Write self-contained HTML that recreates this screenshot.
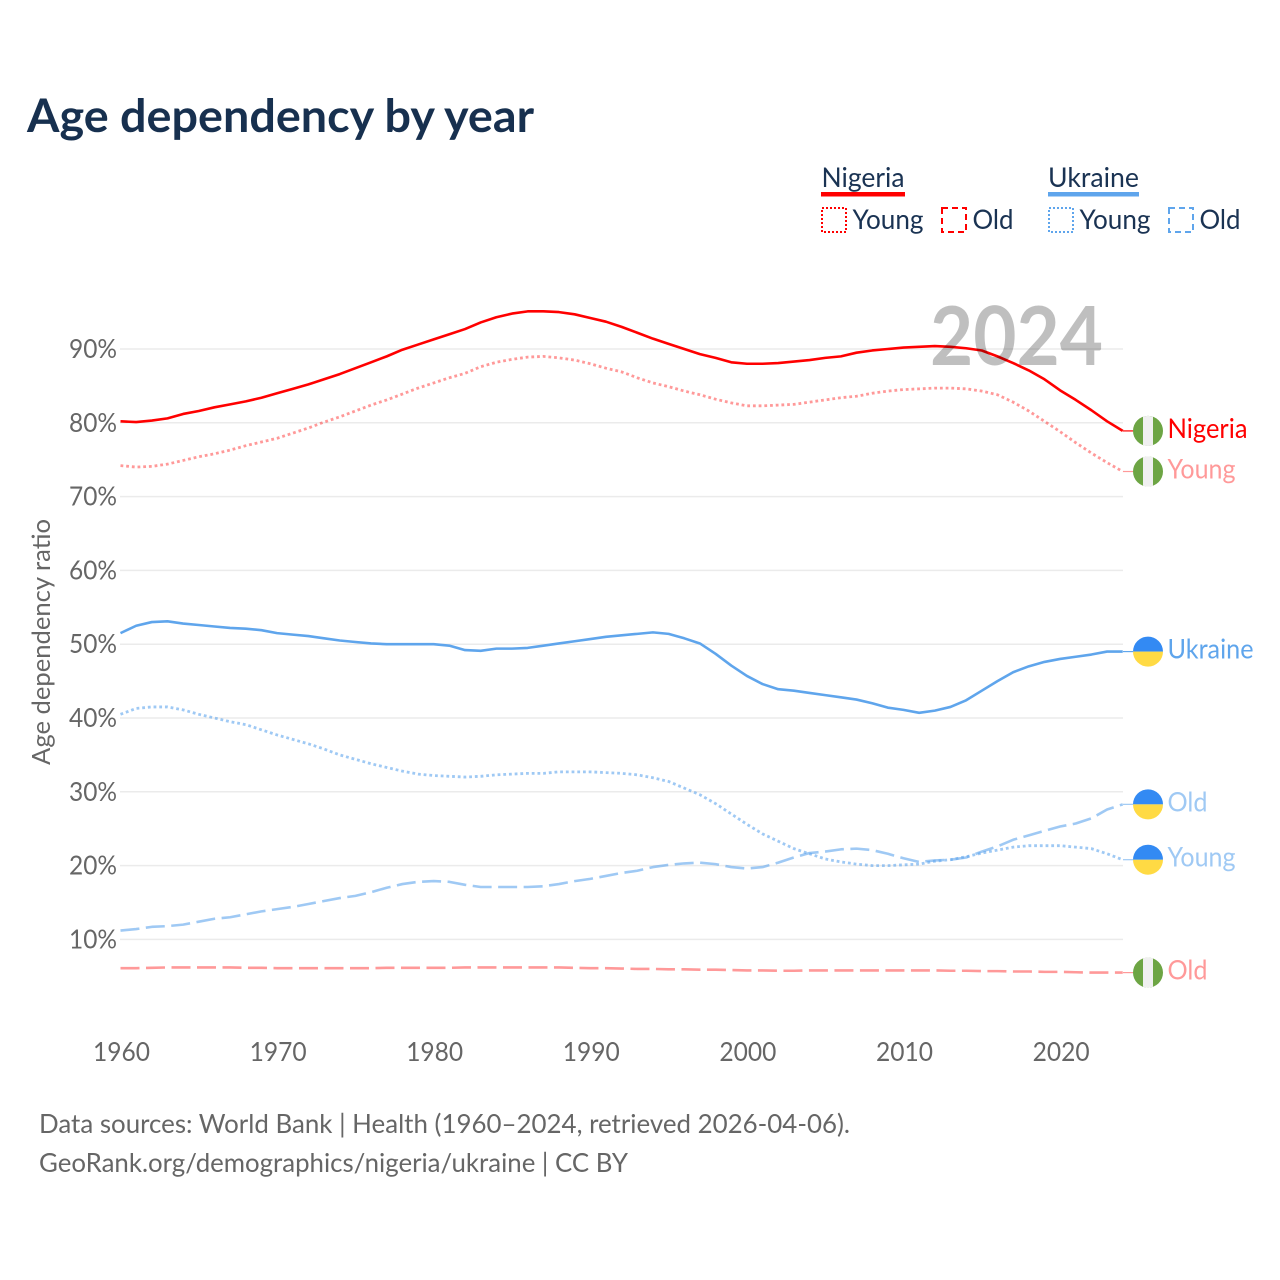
<!DOCTYPE html>
<html lang="en">
<head>
<meta charset="utf-8">
<title>Age dependency by year</title>
<style>
html,body{margin:0;padding:0;background:#fff;}
svg{display:block;}
text{font-family:"Lato","Carlito","Liberation Sans",sans-serif;}
</style>
</head>
<body>
<svg id="chart" xmlns="http://www.w3.org/2000/svg" width="1280" height="1280" viewBox="0 0 1280 1280">
  <rect x="0" y="0" width="1280" height="1280" fill="#ffffff"/>
  <text x="27" y="132" font-size="46" font-weight="700" fill="#17304f" textLength="507" lengthAdjust="spacingAndGlyphs">Age dependency by year</text>

  <g font-size="27" fill="#1a3353">
    <text x="821.5" y="187" textLength="83" lengthAdjust="spacingAndGlyphs">Nigeria</text>
    <rect x="821" y="192" width="84" height="4.5" fill="#ff0000"/>
    <rect x="822" y="208" width="24" height="24" fill="none" stroke="#ff0000" stroke-width="2" stroke-dasharray="2 2"/>
    <text x="852.5" y="229" textLength="71" lengthAdjust="spacingAndGlyphs">Young</text>
    <rect x="942" y="208" width="24" height="24" fill="none" stroke="#ff0000" stroke-width="2" stroke-dasharray="6 4"/>
    <text x="972.5" y="229" textLength="41" lengthAdjust="spacingAndGlyphs">Old</text>
    <text x="1048" y="187" textLength="91" lengthAdjust="spacingAndGlyphs">Ukraine</text>
    <rect x="1048" y="192" width="91" height="4.5" fill="#5fa5ec"/>
    <rect x="1049" y="208" width="24" height="24" fill="none" stroke="#5fa5ec" stroke-width="2" stroke-dasharray="2 2"/>
    <text x="1079.5" y="229" textLength="71" lengthAdjust="spacingAndGlyphs">Young</text>
    <rect x="1169" y="208" width="24" height="24" fill="none" stroke="#5fa5ec" stroke-width="2" stroke-dasharray="6 4"/>
    <text x="1199.5" y="229" textLength="41" lengthAdjust="spacingAndGlyphs">Old</text>
  </g>

  <text transform="translate(50,642) rotate(-90)" text-anchor="middle" font-size="25" fill="#666666" textLength="246" lengthAdjust="spacingAndGlyphs">Age dependency ratio</text>

  <g id="grid"></g>
  <g id="yticks"></g>
  <g id="xticks"></g>
  <g id="lines"></g>
  <text x="930" y="365" font-size="81" font-weight="700" fill="#000000" fill-opacity="0.25" textLength="173" lengthAdjust="spacingAndGlyphs">2024</text>
  <g id="ends"></g>

  <text x="39" y="1133" font-size="26" fill="#666666" textLength="811" lengthAdjust="spacingAndGlyphs">Data sources: World Bank | Health (1960–2024, retrieved 2026-04-06).</text>
  <text x="39" y="1172" font-size="26" fill="#666666" textLength="589" lengthAdjust="spacingAndGlyphs">GeoRank.org/demographics/nigeria/ukraine | CC BY</text>
</svg>
<script>
var startYear = 1960;
var yTickValues = [10, 20, 30, 40, 50, 60, 70, 80, 90];
var yTickLabels = ["10%", "20%", "30%", "40%", "50%", "60%", "70%", "80%", "90%"];
var xTickValues = [1960, 1970, 1980, 1990, 2000, 2010, 2020];
var xTickLabels = ["1960", "1970", "1980", "1990", "2000", "2010", "2020"];

var nigeriaTotal = [80.2,80.1,80.3,80.6,81.2,81.6,82.1,82.5,82.9,83.4,84.0,84.6,85.2,85.9,86.6,87.4,88.2,89.0,89.9,90.6,91.3,92.0,92.7,93.6,94.3,94.8,95.1,95.1,95.0,94.7,94.2,93.7,93.0,92.2,91.4,90.7,90.0,89.3,88.8,88.2,88.0,88.0,88.1,88.3,88.5,88.8,89.0,89.5,89.8,90.0,90.2,90.3,90.4,90.3,90.1,89.8,89.0,88.1,87.1,85.9,84.4,83.1,81.7,80.2,78.9];
var nigeriaYoung = [74.2,74.0,74.1,74.4,74.9,75.4,75.8,76.3,76.9,77.4,77.9,78.6,79.3,80.1,80.8,81.6,82.4,83.1,83.9,84.7,85.4,86.1,86.7,87.6,88.2,88.6,88.9,89.0,88.8,88.5,88.0,87.4,86.9,86.1,85.4,84.9,84.3,83.8,83.2,82.7,82.3,82.3,82.4,82.5,82.8,83.1,83.4,83.6,84.0,84.3,84.5,84.6,84.7,84.7,84.6,84.3,83.8,82.8,81.6,80.2,78.8,77.3,75.9,74.6,73.4];
var nigeriaOld = [6.1,6.1,6.15,6.2,6.2,6.2,6.2,6.2,6.15,6.15,6.1,6.1,6.1,6.1,6.1,6.1,6.1,6.15,6.15,6.15,6.15,6.15,6.2,6.2,6.2,6.2,6.2,6.2,6.2,6.15,6.1,6.1,6.05,6.0,6.0,5.95,5.95,5.9,5.9,5.85,5.8,5.8,5.75,5.75,5.8,5.8,5.8,5.8,5.8,5.8,5.8,5.8,5.8,5.75,5.75,5.7,5.7,5.65,5.65,5.6,5.6,5.55,5.5,5.5,5.5];
var ukraineTotal = [51.5,52.5,53.0,53.1,52.8,52.6,52.4,52.2,52.1,51.9,51.5,51.3,51.1,50.8,50.5,50.3,50.1,50.0,50.0,50.0,50.0,49.8,49.2,49.1,49.4,49.4,49.5,49.8,50.1,50.4,50.7,51.0,51.2,51.4,51.6,51.4,50.8,50.1,48.7,47.1,45.7,44.6,43.9,43.7,43.4,43.1,42.8,42.5,42.0,41.4,41.1,40.7,41.0,41.5,42.4,43.7,45.0,46.2,47.0,47.6,48.0,48.3,48.6,49.0,49.0];
var ukraineYoung = [40.5,41.3,41.5,41.5,41.1,40.5,40.0,39.5,39.1,38.4,37.7,37.1,36.5,35.8,35.0,34.4,33.8,33.3,32.8,32.4,32.2,32.1,32.0,32.1,32.3,32.4,32.5,32.5,32.7,32.7,32.7,32.6,32.5,32.3,31.9,31.4,30.5,29.6,28.4,27.0,25.6,24.3,23.3,22.3,21.6,20.9,20.5,20.2,20.0,20.0,20.1,20.2,20.6,20.8,21.2,21.7,22.1,22.5,22.7,22.7,22.7,22.5,22.3,21.6,20.8];
var ukraineOld = [11.2,11.4,11.7,11.8,12.0,12.4,12.8,13.0,13.4,13.8,14.1,14.4,14.8,15.2,15.6,15.9,16.4,17.0,17.5,17.8,17.9,17.8,17.4,17.1,17.1,17.1,17.1,17.2,17.5,17.9,18.2,18.6,19.0,19.3,19.8,20.1,20.3,20.4,20.2,19.8,19.6,19.8,20.4,21.1,21.7,21.9,22.2,22.3,22.1,21.6,21.0,20.5,20.7,20.8,21.1,21.9,22.6,23.5,24.1,24.7,25.3,25.7,26.4,27.6,28.3];

var NS = "http://www.w3.org/2000/svg";
function xScale(year) { return 120.5 + (year - 1960) * 15.66; }
function yScale(value) { return 349 + (90 - value) * 7.38; }
function make(tag, parent, attrs) {
  var el = document.createElementNS(NS, tag);
  for (var k in attrs) { el.setAttribute(k, attrs[k]); }
  parent.appendChild(el);
  return el;
}
var gridGroup = document.getElementById("grid");
var yTickGroup = document.getElementById("yticks");
var xTickGroup = document.getElementById("xticks");
var lineGroup = document.getElementById("lines");
var endGroup = document.getElementById("ends");

yTickValues.forEach(function (v, i) {
  var gridLine = make("line", gridGroup, { x1: 120, x2: 1123, y1: yScale(v), y2: yScale(v), stroke: "#ebebeb", "stroke-width": 1.5 });
  
  
  var label = make("text", yTickGroup, { x: 69, y: yScale(v) + 9, "font-size": 26, fill: "#666666", textLength: 48, lengthAdjust: "spacingAndGlyphs" });
  
  
  label.textContent = yTickLabels[i];
});
xTickValues.forEach(function (yr, i) {
  var label = make("text", xTickGroup, { x: xScale(yr) - 27.5, y: 1061, "font-size": 26, fill: "#666666", textLength: 57, lengthAdjust: "spacingAndGlyphs" });
  
  
  label.textContent = xTickLabels[i];
});

function drawSeries(values, color, width, dash, opacity, seriesName) {
  var pts = values.map(function (v, i) { return xScale(startYear + i).toFixed(2) + "," + yScale(v).toFixed(2); });
  var attrs = { points: pts.join(" "), fill: "none", stroke: color, "stroke-width": width, "stroke-opacity": opacity, "stroke-linejoin": "round" };
  if (dash) { attrs["stroke-dasharray"] = dash; }
  var poly = make("polyline", lineGroup, attrs);
  
  
}
function drawEnd(values, country, text, color, opacity, textWidth, labelName) {
  var y = yScale(values[values.length - 1]);
  var stub = make("line", endGroup, { x1: 1123, x2: 1133, y1: y, y2: y, stroke: color, "stroke-width": 1.2, "stroke-opacity": opacity });
  
  
  var flag = make("g", endGroup, {});
  
  
  var cx = 1148, r = 15;
  if (country === "NG") {
    make("circle", flag, { cx: cx, cy: y, r: r, fill: "#6da544" });
    make("path", flag, { d: "M" + (cx - 5) + " " + (y - 14.2) + "A15 15 0 0 1 " + (cx + 5) + " " + (y - 14.2) + "L" + (cx + 5) + " " + (y + 14.2) + "A15 15 0 0 1 " + (cx - 5) + " " + (y + 14.2) + "Z", fill: "#f0f0f0" });
  } else {
    make("path", flag, { d: "M" + (cx - r) + " " + y + "A15 15 0 0 1 " + (cx + r) + " " + y + "Z", fill: "#338af3" });
    make("path", flag, { d: "M" + (cx - r) + " " + y + "A15 15 0 0 0 " + (cx + r) + " " + y + "Z", fill: "#ffda44" });
  }
  var label = make("text", endGroup, { x: 1167.5, y: y + 7, "font-size": 27, fill: color, "fill-opacity": opacity, textLength: textWidth, lengthAdjust: "spacingAndGlyphs" });
  
  
  label.textContent = text;
}

var DOT = "2.8 2.9";
var DASH = "19 6.5";
drawSeries(nigeriaOld, "#ff0000", 2.6, DASH, 0.4, "nigeria-old-line");
drawSeries(ukraineOld, "#5fa5ec", 2.6, DASH, 0.6, "ukraine-old-line");
drawSeries(ukraineYoung, "#5fa5ec", 2.8, DOT, 0.6, "ukraine-young-line");
drawSeries(nigeriaYoung, "#ff0000", 2.8, DOT, 0.4, "nigeria-young-line");
drawSeries(ukraineTotal, "#5fa5ec", 2.6, null, 1, "ukraine-total-line");
drawSeries(nigeriaTotal, "#ff0000", 2.6, null, 1, "nigeria-total-line");

drawEnd(nigeriaTotal, "NG", "Nigeria", "#ff0000", 1, 80, "nigeria-total-end");
drawEnd(nigeriaYoung, "NG", "Young", "#ff0000", 0.4, 68, "nigeria-young-end");
drawEnd(ukraineTotal, "UA", "Ukraine", "#5fa5ec", 1, 86, "ukraine-total-end");
drawEnd(ukraineOld, "UA", "Old", "#5fa5ec", 0.6, 40, "ukraine-old-end");
drawEnd(ukraineYoung, "UA", "Young", "#5fa5ec", 0.6, 68, "ukraine-young-end");
drawEnd(nigeriaOld, "NG", "Old", "#ff0000", 0.4, 40, "nigeria-old-end");
</script>
</body>
</html>
